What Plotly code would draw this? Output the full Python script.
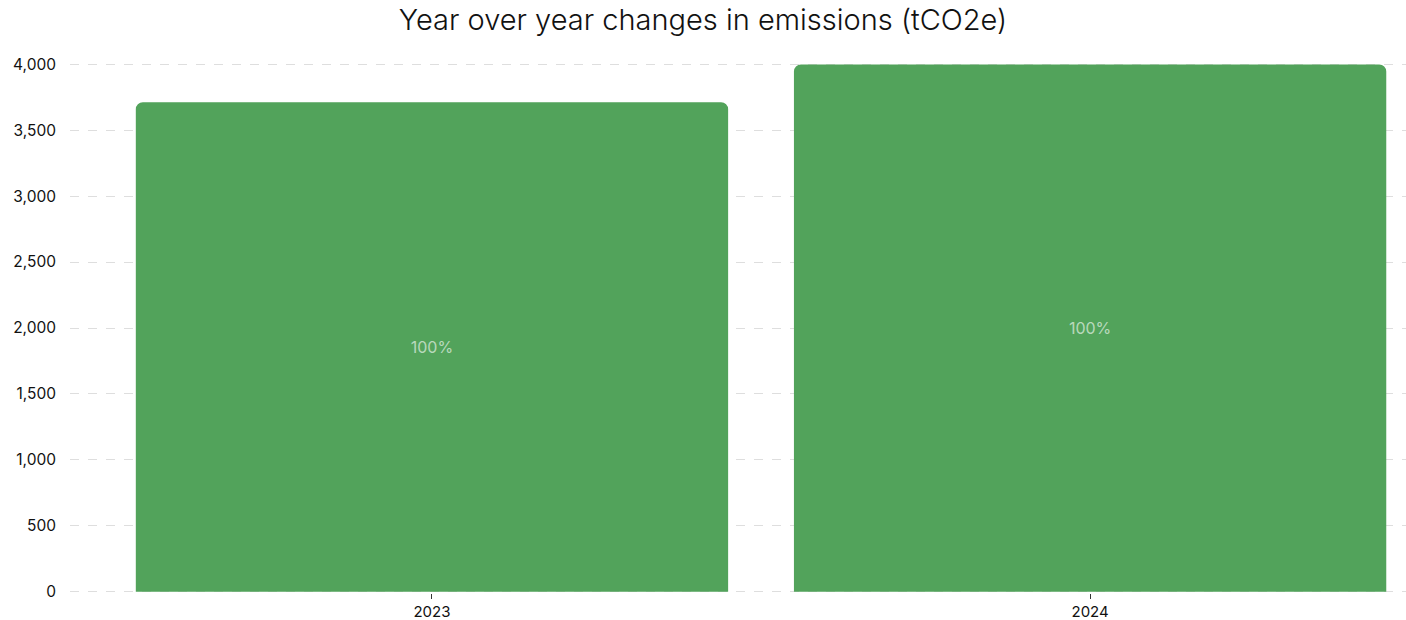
import plotly.graph_objects as go

years = ["2023", "2024"]
emissions = [3712, 3998]
labels = ["100%", "100%"]
y_ticks = [0, 500, 1000, 1500, 2000, 2500, 3000, 3500, 4000]

fig = go.Figure()
fig.add_trace(go.Bar(
    x=years, y=emissions, text=labels,
    textposition="inside", insidetextanchor="middle",
    textfont=dict(color="rgba(255,255,255,0.6)", size=16, family="Inter"),
    marker=dict(color="#52a35b", line=dict(width=0)),
    width=0.9, hoverinfo="x+y",
))
fig.update_layout(
    width=1406, height=620,
    margin=dict(l=70, r=0, t=63, b=27, autoexpand=False),
    paper_bgcolor="white", plot_bgcolor="white",
    barcornerradius=7,
    font=dict(family="Inter", color="#111", size=15),
    title=dict(text="Year over year changes in emissions (tCO2e)", x=0.5, xanchor="center",
               y=0.968, yanchor="middle",
               font=dict(size=29, color="#111", family="Inter", weight=300)),
    showlegend=False,
    xaxis=dict(type="category", range=[-0.55, 1.48], showgrid=False, showline=False,
               ticks="outside", ticklen=5, tickcolor="#333", tickwidth=1,
               ticklabelstandoff=0,
               tickfont=dict(size=15, color="#111"), fixedrange=True,
               automargin=False),
    yaxis=dict(range=[-9, 4009], tickvals=y_ticks, tickformat=",", showgrid=True,
               gridcolor="#dedede", griddash="dash", gridwidth=1, zeroline=False,
               showline=False, ticks="", ticklabelstandoff=13, automargin=False,
               tickfont=dict(size=15.5, color="#111")),
)
fig.write_html("out.html")
